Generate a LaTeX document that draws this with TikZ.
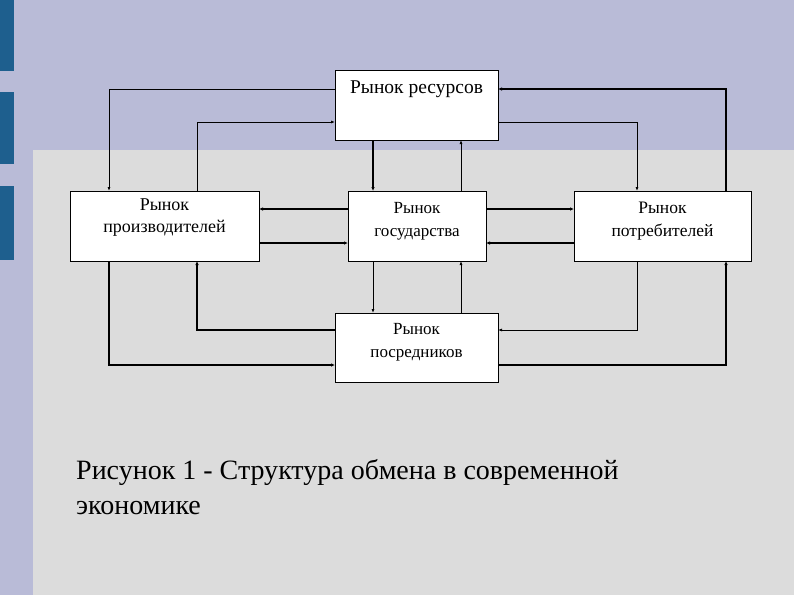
\documentclass[tikz,border=0pt]{standalone}
\usepackage{fontspec}
\setmainfont{Liberation Serif}
\usetikzlibrary{arrows.meta}
\definecolor{lav}{HTML}{B9BBD7}
\definecolor{panel}{HTML}{DCDCDC}
\definecolor{barblue}{HTML}{1E5F8E}
\tikzset{
  box/.style={draw=black, fill=white, line width=0.6pt, inner sep=0pt},
  lbl/.style={align=center, inner sep=0pt},
  link/.style={line width=0.8pt, -{Latex[length=4pt,width=3pt]}},
  tlink/.style={line width=1.5pt, -{Latex[length=4pt,width=3.5pt]}}
}
\begin{document}
\begin{tikzpicture}[x=1pt,y=-1pt]
\useasboundingbox (0,0) rectangle (794,595);
\fill[lav] (0,0) rectangle (794,595);
\fill[panel] (33,150) rectangle (794,595);
\fill[barblue] (0,0) rectangle (14,71);
\fill[barblue] (0,92) rectangle (14,164);
\fill[barblue] (0,186) rectangle (14,260);
% boxes
\node[box, minimum width=163pt, minimum height=70pt, anchor=north west] (res) at (335,70) {};
\node[lbl, font=\fontsize{19.5}{22}\selectfont] (resl) at (416.5,89) {Рынок ресурсов};
\node[box, minimum width=189pt, minimum height=70pt, anchor=north west] (prod) at (70,191) {};
\node[lbl, font=\fontsize{18}{22}\selectfont] (prodl) at (164.5,218) {Рынок\\производителей};
\node[box, minimum width=138pt, minimum height=70pt, anchor=north west] (gov) at (348,191) {};
\node[lbl, font=\fontsize{17}{23}\selectfont] (govl) at (417,221) {Рынок\\государства};
\node[box, minimum width=177pt, minimum height=70pt, anchor=north west] (cons) at (574,191) {};
\node[lbl, font=\fontsize{17.5}{23}\selectfont] (consl) at (662.5,221) {Рынок\\потребителей};
\node[box, minimum width=163pt, minimum height=69pt, anchor=north west] (mid) at (335,313) {};
\node[lbl, font=\fontsize{17}{23}\selectfont] (midl) at (416.5,342) {Рынок\\посредников};
% connectors
\draw[link] (335,89) -| (109,191);
\draw[link] (197,191) |- (335,122);
\draw[tlink] (373,140) -- (373,191);
\draw[link] (461,191) -- (461,140);
\draw[link] (498,122) -| (637,191);
\draw[tlink] (726,191) |- (498,89);
\draw[tlink] (348,209) -- (259,209);
\draw[tlink] (259,243) -- (348,243);
\draw[tlink] (486,209) -- (574,209);
\draw[tlink] (574,243) -- (486,243);
\draw[link] (373,261) -- (373,313);
\draw[link] (461,313) -- (461,261);
\draw[tlink] (335,330) -| (197,261);
\draw[tlink] (109,261) |- (335,365);
\draw[link] (637,261) |- (498,330);
\draw[tlink] (498,365) -| (726,261);
% caption
\node[anchor=north west, align=left, font=\fontsize{28}{35}\selectfont, inner sep=0pt] (cap) at (76,459) {Рисунок 1 - Структура обмена в современной\\экономике};
\end{tikzpicture}
\end{document}
